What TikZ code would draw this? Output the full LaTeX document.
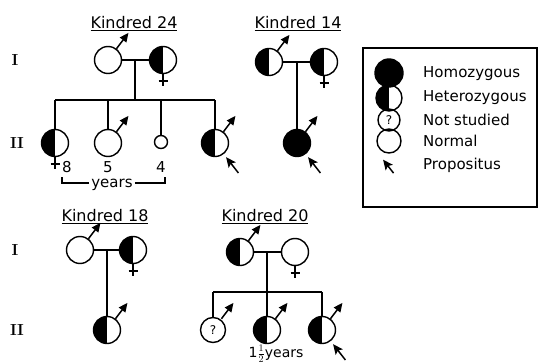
\documentclass[tikz,border=0pt]{standalone}
\usepackage{fontspec}
\newfontfamily\dvs{DejaVu Sans}
\usetikzlibrary{arrows.meta,calc}
\tikzset{
 lw/.style={line width=1.4pt},
 ind/.style={circle, draw, line width=1.4pt, minimum size=27pt, inner sep=0pt},
 het/.style={ind, path picture={\fill[black] (path picture bounding box.north) rectangle (path picture bounding box.south west);}},
 hom/.style={ind, fill=black},
 unk/.style={ind, font=\dvs\fontsize{12}{14}\selectfont},
 tinyind/.style={ind, minimum size=13pt},
 malearr/.style={line width=1.5pt, -{Triangle[length=9pt,width=8pt]}},
 proparr/.style={line width=1.5pt, -{Stealth[length=10pt,width=9pt,inset=2pt]}},
 title/.style={font=\dvs\fontsize{16}{18}\selectfont, inner sep=1pt},
 gen/.style={font=\bfseries\fontsize{16}{18}\selectfont, inner sep=0pt},
 lab/.style={font=\dvs\fontsize{15}{17}\selectfont, inner sep=1pt},
 leg/.style={font=\dvs\fontsize{15}{17}\selectfont, anchor=west, inner sep=0pt},
}
\newcommand\malesym[1]{\draw[malearr] (#1.center) ++(53:14pt) -- ++(53:20pt);}
\newcommand\femsym[1]{\draw[lw] (#1.south) -- ++(0pt,-12pt) (#1.south) ++(-4.5pt,-7pt) -- ++(9pt,0pt);}
\newcommand\propsym[1]{\draw[proparr] (#1.center) ++(-52:38pt) -- ++(128:20pt);}
\begin{document}
\begin{tikzpicture}[x=1pt,y=-1pt]
\useasboundingbox[fill=white] (0,0) rectangle (541,363);

% generation labels
\node[gen] (g1a) at (15,60) {I};
\node[gen] (g2a) at (17,143) {II};
\node[gen] (g1b) at (15,250) {I};
\node[gen] (g2b) at (17,330) {II};

% ---------- Kindred 24 ----------
\node[title] (t24) at (134,24) {\underline{Kindred 24}};
\node[ind] (k24f) at (108,60) {};
\node[het] (k24m) at (163,60) {};
\coordinate (k24mid) at (135,60);
\coordinate (k24sib) at (135,100);
\node[het] (k24c1) at (55,143) {};
\node[ind] (k24c2) at (108,143) {};
\node[tinyind] (k24c3) at (161,142) {};
\node[het] (k24c4) at (215,143) {};
\draw[lw] (k24f) -- (k24m);
\draw[lw] (k24mid) -- (k24sib);
\draw[lw] (k24c1 |- k24sib) -- (k24c4 |- k24sib);
\foreach \c in {k24c1,k24c2,k24c3,k24c4} \draw[lw] (\c |- k24sib) -- (\c);
\malesym{k24f}
\femsym{k24m}
\femsym{k24c1}
\malesym{k24c2}
\malesym{k24c4}
\propsym{k24c4}
\node[lab, inner sep=0pt] (a8) at (67,167) {8};
\node[lab, inner sep=0pt] (a5) at (108,167) {5};
\node[lab, inner sep=0pt] (a4) at (161,167) {4};
\node[lab, inner sep=2pt] (yrs) at (112,185) {years};
\coordinate (bl) at (62,183);
\coordinate (br) at (165,183);
\draw[lw] (yrs.west |- bl) -- (bl) -- ++(0pt,6pt);
\draw[lw] (yrs.east |- br) -- (br) -- ++(0pt,6pt);

% ---------- Kindred 14 ----------
\node[title] (t14) at (298,24) {\underline{Kindred 14}};
\node[het] (k14f) at (269,62) {};
\node[het] (k14m) at (324,62) {};
\coordinate (k14mid) at (297,62);
\node[hom] (k14c) at (297,143) {};
\draw[lw] (k14f) -- (k14m);
\draw[lw] (k14mid) -- (k14c);
\malesym{k14f}
\femsym{k14m}
\malesym{k14c}
\propsym{k14c}

% ---------- Legend ----------
\draw[line width=1.8pt] (363,48) rectangle (537,207);
\node[hom, minimum size=28pt] (l1) at (389,73) {};
\node[het, minimum size=26pt] (l2) at (389,98) {};
\node[unk, minimum size=22pt] (l3) at (389,120) {?};
\node[ind, minimum size=24pt] (l4) at (389,141) {};
\coordinate (l5) at (388,166);
\draw[proparr] (l5) ++(-52:9pt) -- ++(128:17pt);
\node[leg] (lt1) at (423,74) {Homozygous};
\node[leg] (lt2) at (423,98) {Heterozygous};
\node[leg] (lt3) at (423,120) {Not studied};
\node[leg] (lt4) at (423,141) {Normal};
\node[leg] (lt5) at (423,165) {Propositus};

% ---------- Kindred 18 ----------
\node[title] (t18) at (105,217) {\underline{Kindred 18}};
\node[ind] (k18f) at (80,250) {};
\node[het] (k18m) at (133,250) {};
\coordinate (k18mid) at (107,250);
\node[het] (k18c) at (107,330) {};
\draw[lw] (k18f) -- (k18m);
\draw[lw] (k18mid) -- (k18c);
\malesym{k18f}
\femsym{k18m}
\malesym{k18c}

% ---------- Kindred 20 ----------
\node[title] (t20) at (265,217) {\underline{Kindred 20}};
\node[het] (k20f) at (240,252) {};
\node[ind] (k20m) at (295,252) {};
\coordinate (k20mid) at (267,252);
\coordinate (k20sib) at (267,292);
\node[unk, minimum size=25pt] (k20c1) at (213,330) {?};
\node[het] (k20c2) at (267,330) {};
\node[het] (k20c3) at (322,330) {};
\draw[lw] (k20f) -- (k20m);
\draw[lw] (k20mid) -- (k20sib);
\draw[lw] (k20c1 |- k20sib) -- (k20c3 |- k20sib);
\foreach \c in {k20c1,k20c2,k20c3} \draw[lw] (\c |- k20sib) -- (\c);
\malesym{k20f}
\femsym{k20m}
\malesym{k20c1}
\malesym{k20c2}
\malesym{k20c3}
\propsym{k20c3}
\node[lab, font=\dvs\fontsize{14}{16}\selectfont] (a15) at (276,354) {1$\frac{1}{2}$years};
\end{tikzpicture}
\end{document}
